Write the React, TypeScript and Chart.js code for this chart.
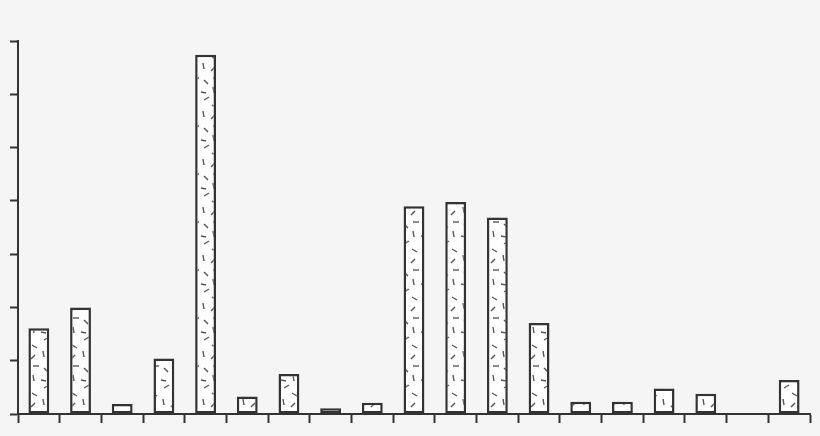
import React, { useEffect, useRef } from "react";
import { Chart, registerables } from "chart.js";

Chart.register(...registerables);

const categories: string[] = [
  "1", "2", "3", "4", "5", "6", "7", "8", "9", "10",
  "11", "12", "13", "14", "15", "16", "17", "18", "19",
];
const values: number[] = [
  1.61, 2.0, 0.19, 1.04, 6.74, 0.33, 0.75, 0.11, 0.21, 3.9,
  3.98, 3.69, 1.71, 0.23, 0.23, 0.48, 0.38, 0, 0.64,
];
const yTicks: number[] = [0, 1, 2, 3, 4, 5, 6, 7];

// texture dashes inside a 20x48 tile: [x1, y1, x2, y2]
const DASHES: number[][] = [
  [4, 4, 9, 1],
  [12, 9, 17, 12],
  [3, 15, 4, 21],
  [11, 23, 15, 19],
  [13, 30, 19, 30],
  [4, 32, 8, 36],
  [13, 39, 14, 45],
  [1, 44, 6, 45],
];

function makePattern(ctx: CanvasRenderingContext2D): CanvasPattern | string {
  const c = document.createElement("canvas");
  c.width = 20;
  c.height = 48;
  const p = c.getContext("2d");
  if (!p) return "#ffffff";
  p.fillStyle = "#ffffff";
  p.fillRect(0, 0, 20, 48);
  p.strokeStyle = "#555555";
  p.lineWidth = 1.4;
  p.lineCap = "butt";
  for (const d of DASHES) {
    p.beginPath();
    p.moveTo(d[0], d[1]);
    p.lineTo(d[2], d[3]);
    p.stroke();
  }
  return ctx.createPattern(c, "repeat") || "#ffffff";
}

export default function App() {
  const ref = useRef<HTMLCanvasElement | null>(null);
  useEffect(() => {
    const canvas = ref.current;
    if (!canvas) return;
    const ctx = canvas.getContext("2d");
    if (!ctx) return;
    const pattern = makePattern(ctx);
    const chart = new Chart(ctx, {
      type: "bar",
      data: {
        labels: categories,
        datasets: [
          {
            data: values,
            backgroundColor: pattern as any,
            borderColor: "#333333",
            borderWidth: 2.5,
            borderSkipped: false,
            barPercentage: 0.5,
            categoryPercentage: 1,
          },
        ],
      },
      options: {
        animation: false,
        responsive: false,
        maintainAspectRatio: false,
        devicePixelRatio: 1,
        layout: { padding: { left: 10, top: 41, right: 10, bottom: 13 } },
        plugins: { legend: { display: false }, tooltip: { enabled: false } },
        scales: {
          x: {
            offset: true,
            grid: {
              offset: true,
              drawOnChartArea: false,
              drawTicks: true,
              tickLength: 9,
              tickWidth: 2,
              tickColor: "#333333",
            },
            border: { display: true, color: "#333333", width: 2 },
            ticks: { display: false },
          },
          y: {
            min: 0,
            max: 7,
            afterBuildTicks: (scale: any) => {
              scale.ticks = yTicks.map((v) => ({ value: v }));
            },
            grid: {
              drawOnChartArea: false,
              drawTicks: true,
              tickLength: 8,
              tickWidth: 2,
              tickColor: "#333333",
            },
            border: { display: true, color: "#333333", width: 2 },
            ticks: { display: false },
          },
        },
      },
    });
    return () => chart.destroy();
  }, []);
  return (
    <div
      style={{
        position: "fixed",
        left: 0,
        top: 0,
        width: 820,
        height: 436,
        background: "#f5f5f5",
      }}
    >
      <canvas ref={ref} width={820} height={436} style={{ display: "block" }} />
    </div>
  );
}
